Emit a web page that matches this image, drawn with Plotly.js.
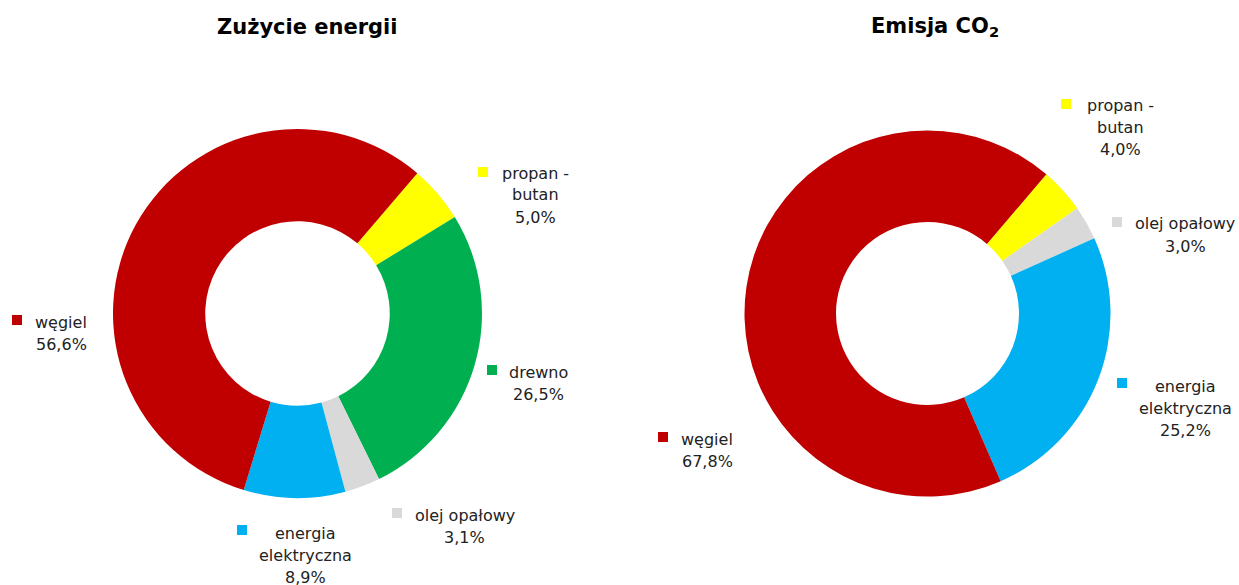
<!DOCTYPE html>
<html>
<head>
<meta charset="utf-8">
<script src="https://cdn.plot.ly/plotly-3.0.1.min.js"></script>
<style>html,body{margin:0;padding:0;background:#fff;}#chart{width:1239px;height:585px;}</style>
</head>
<body>
<div id="chart"></div>
<script>
// ---- data ----
const titles = ['Zużycie energii', 'Emisja CO<sub>2</sub>'];

const energyCategories = ['propan - butan', 'drewno', 'olej opałowy', 'energia elektryczna', 'węgiel'];
const energyValues = [5.0, 26.5, 3.1, 8.9, 56.6];
const energyLabelLines = [['propan -', 'butan'], ['drewno'], ['olej opałowy'], ['energia', 'elektryczna'], ['węgiel']];

const co2Categories = ['propan - butan', 'olej opałowy', 'energia elektryczna', 'węgiel'];
const co2Values = [4.0, 3.0, 25.2, 67.8];
const co2LabelLines = [['propan -', 'butan'], ['olej opałowy'], ['energia', 'elektryczna'], ['węgiel']];

const colorMap = {
  'propan - butan': '#FFFF00',
  'drewno': '#00B050',
  'olej opałowy': '#D9D9D9',
  'energia elektryczna': '#00B0F0',
  'węgiel': '#C00000'
};

// ---- layout helpers (pixel positions of label blocks) ----
const W = 1239, H = 585;
const energyLabelPos = [
  {sq: [483, 172], cx: 535, y0: 173},
  {sq: [492, 370], cx: 538, y0: 372},
  {sq: [397, 513], cx: 465, y0: 515},
  {sq: [242, 530], cx: 305, y0: 533},
  {sq: [17, 320], cx: 61, y0: 322}
];
const co2LabelPos = [
  {sq: [1066, 104], cx: 1120, y0: 105},
  {sq: [1117, 222], cx: 1185, y0: 224},
  {sq: [1122, 383], cx: 1185, y0: 386},
  {sq: [663, 437], cx: 707, y0: 439}
];
const lineGap = 22;
const labelFont = {family: 'DejaVu Sans, sans-serif', size: 16, color: '#222'};

function fmt(v) { return v.toFixed(1).replace('.', ',') + '%'; }

function pieTrace(cats, vals, domX, domY) {
  return {
    type: 'pie', labels: cats, values: vals, sort: false, direction: 'clockwise',
    rotation: 40.5, hole: 0.5, textinfo: 'none', hoverinfo: 'label+percent',
    marker: {colors: cats.map(c => colorMap[c]), line: {width: 0}},
    domain: {x: domX, y: domY}, showlegend: false
  };
}

function pxBox(cx, cy, r) {
  return {x: [(cx - r) / W, (cx + r) / W], y: [(H - cy - r) / H, (H - cy + r) / H]};
}
const b1 = pxBox(297.5, 313.5, 184.5);
const b2 = pxBox(927.5, 313.5, 183);

const data = [pieTrace(energyCategories, energyValues, b1.x, b1.y), pieTrace(co2Categories, co2Values, b2.x, b2.y)];

const annotations = [];
const shapes = [];
function addLabels(cats, vals, lines, pos) {
  cats.forEach((c, i) => {
    const p = pos[i];
    const all = lines[i].concat([fmt(vals[i])]);
    all.forEach((t, k) => {
      annotations.push({xref: 'paper', yref: 'paper', x: p.cx / W, y: 1 - (p.y0 + k * lineGap) / H,
        xanchor: 'center', yanchor: 'middle', text: t, showarrow: false, font: labelFont});
    });
    const s = 10;
    shapes.push({type: 'rect', xref: 'paper', yref: 'paper',
      x0: (p.sq[0] - s / 2) / W, x1: (p.sq[0] + s / 2) / W,
      y0: 1 - (p.sq[1] + s / 2) / H, y1: 1 - (p.sq[1] - s / 2) / H,
      fillcolor: colorMap[c], line: {width: 0}});
  });
}
addLabels(energyCategories, energyValues, energyLabelLines, energyLabelPos);
addLabels(co2Categories, co2Values, co2LabelLines, co2LabelPos);

[[titles[0], 307], [titles[1], 935]].forEach(([t, x]) => {
  annotations.push({xref: 'paper', yref: 'paper', x: x / W, y: 1 - 27 / H, xanchor: 'center', yanchor: 'middle',
    text: '<b>' + t + '</b>', showarrow: false,
    font: {family: 'DejaVu Sans, sans-serif', size: 21, color: '#000'}});
});

const layout = {
  width: W, height: H, margin: {l: 0, r: 0, t: 0, b: 0},
  paper_bgcolor: '#fff', plot_bgcolor: '#fff',
  annotations: annotations, shapes: shapes
};
Plotly.newPlot('chart', data, layout, {displayModeBar: false, staticPlot: true});
</script>
</body>
</html>
